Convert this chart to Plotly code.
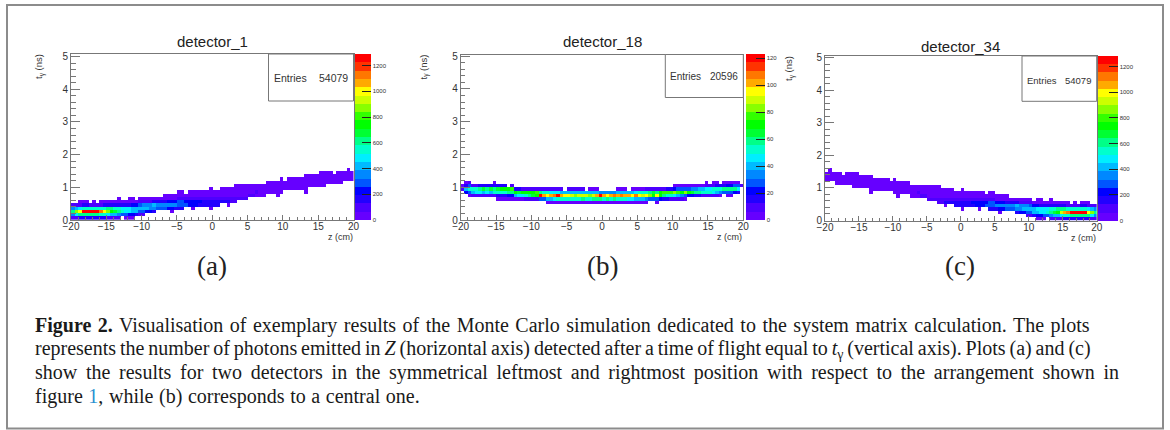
import plotly.graph_objects as go

W, H = 1170, 430

# Histogram contents read per z-column (80 columns, 0.5 cm wide; t bins 0.1 ns high)
z_edges_first = -19.75
t_edges_first = 0.05

a_start = [0,0,0,0,0,0,0,0,0,0,0,0,0,0,1,0,0,0,1,1,
           1,2,2,2,3,3,3,3,2,3,3,3,4,4,3,4,4,4,4,3,
           4,4,5,5,4,5,5,6,6,6,7,7,7,7,7,8,8,8,7,8,
           9,9,9,9,9,9,8,10,10,10,10,10,11,11,11,11,11,12,12,12]
a_values = [
    [90,350,600,350,90],[110,500,850,420,110],[130,620,1020,480,120,30],[150,640,1240,520,130,30],
    [170,640,1270,540,130,30],[170,620,1280,540,120],[160,620,1270,540,120,30],[150,600,1260,540,120],
    [150,560,1140,560,120,30],[130,520,1030,580,130,30],[120,480,900,600,130,30],[100,430,760,620,140,30],
    [90,400,700,560,150,30],[70,350,620,540,150,40,20],[300,560,500,170,40],[30,260,500,480,180,40],
    [30,230,460,470,190,50,20],[20,200,430,450,200,50,20],[170,400,440,230,60],[120,300,440,300,80,20],
    [100,260,430,330,90,20],[220,400,350,100,20],[200,380,370,110,25],[170,350,390,130,30],
    [300,370,140,30],[280,370,160,35],[260,360,180,40,15],[230,350,200,45,15],
    [30,200,340,220,50,15],[180,330,240,55,15],[160,300,260,70,20,10],[140,280,280,80,20,10],
    [260,250,90,20],[240,240,95,20,10],[30,220,230,100,20,10],[200,210,110,25,10],
    [190,200,115,25,10],[180,190,115,25,10],[170,190,115,30,10],[20,160,180,115,30,10,10],
    [150,170,110,30,10],[130,160,110,30,10],[150,110,35,10,10],[140,110,35,10,10],
    [20,130,110,40,15,10],[120,110,40,15,10],[100,105,45,15,10,10],[100,50,20,10,10],
    [90,55,20,10,10],[80,60,20,10,10],[70,25,10,10],[72,30,10,10],
    [60,70,10,10],[50,40,10,10],[40,40,15,10],[40,25,10,10],
    [40,25,10,10],[35,30,10,10],[10,35,30,12,10],[15,35,25,12,8],
    [35,25,10],[35,25,12,8],[30,30,12,8],[30,30,12,8],
    [28,30,14,8],[26,32,14,8],[10,24,32,16,8,6],[30,22,10,6],
    [28,22,10,6],[26,24,10,6],[25,26,12,6,5],[22,26,14,6,5],
    [26,16,8,5],[25,18,8,5],[24,18,8],[22,20,10,5],
    [20,22,10,5],[24,12,6],[24,14,6,4],[22,14,6],
]

b_start = [9,8,7,7,7,7,7,7,7,7,6,6,6,6,6,6,6,6,6,6,
           6,6,6,6,5,5,5,5,5,5,5,5,5,5,5,5,5,5,5,5,
           5,5,5,5,5,5,5,5,5,5,5,5,5,6,6,5,6,6,6,6,
           6,6,6,6,7,7,7,7,7,7,7,7,7,7,8,7,7,8,8,10]
b_values = [
    [10,6],[20,40,15,6],[5,25,50,30,8],[8,40,55,12],[8,45,50,12],[10,45,60,15],[10,40,65,15],[10,45,60,15],
    [10,40,65,15],[12,50,60,15,4],[4,15,50,65,15],[4,18,55,70,15],[4,18,55,70,15],[4,20,60,70],[4,22,60,75,10],[5,42,68,15],
    [6,45,65,15],[6,48,70,12],[8,55,72,12],[8,60,68,12],[10,65,72,10],[12,68,75,10],[25,122,60,10],[28,100,55,10],
    [3,40,95,50,8],[3,42,100,45,8],[3,48,105,45,8],[3,50,122,45,8],[3,52,100,40,8],[3,52,95,40],[4,50,95,40,8],[4,52,90,40,8],
    [4,55,85,40,8],[4,55,90,38,8],[4,58,88,38,8],[5,55,90,40],[5,55,85,38,6],[5,58,90,40,6],[5,60,100,38,6],[5,60,122,35],
    [5,55,100,35],[4,58,95,32],[4,55,100,35],[4,58,105,35],[4,55,100,38,6],[4,52,110,40,6],[4,52,100,42,6],[4,48,100,40],
    [4,48,95,42,6],[4,42,110,45,6],[4,40,95,50,6],[4,40,90,55,6],[4,35,95,55,8],[30,85,60,10],[28,70,65,12],[3,25,95,60,12],
    [20,70,70,12],[18,60,75,12],[15,55,75,15],[12,50,75,15],[10,45,80,20,4],[8,40,75,25,4],[8,35,70,25,4],[6,30,80,28,4],
    [22,70,30,4],[20,65,35,5],[18,60,35,5],[15,60,40,6],[12,55,40,6],[10,50,45,10,3],[10,50,45,8],[8,45,50,12,3],
    [8,40,55,15,3],[6,35,55,15],[30,60,15,5],[4,30,60,20,5],[4,25,60,20,5],[20,60,25,6],[15,45,25,6],[8],
]

titles = ["detector_1", "detector_18", "detector_34"]
entries = ["54079", "20596", "54079"]
panel_tags = ["(a)", "(b)", "(c)"]
palette = ["#6600ff","#4d00ff","#2200ff","#0000ff","#0055ff","#0088ff","#00bbff","#00eeff","#00ffcc","#00ff88",
           "#00ff33","#00ff00","#33ff00","#88ff00","#ccff00","#ffff00","#ffaa00","#ff7700","#ff3300","#ff0000"]
caption_lines = [
    "<b>Figure 2.</b> Visualisation of exemplary results of the Monte Carlo simulation dedicated to the system matrix calculation. The plots",
    "represents the number of photons emitted in <i>Z</i> (horizontal axis) detected after a time of flight equal to <i>t</i><sub>γ</sub> (vertical axis). Plots (a) and (c)",
    "show the results for two detectors in the symmetrical leftmost and rightmost position with respect to the arrangement shown in",
    "figure <span style='color:#2a8fd0'>1</span>, while (b) corresponds to a central one.",
]
# Extra space between words so the caption lines end flush, as in the justified original
caption_word_gap = [1.5, -1.1, 3.7, 0.6]
caption_left = 35

# Pixel layout of each panel: frame, colour bar, stats box, text anchors
panels = [
    dict(x0=71, x1=353.5, y0=54, y1=220, ymax=5.08, zmax=1290, cb0=355, cb1=371, dz=200,
         box=(268.5, 101), ent=(272.7, 349, 77.5), ent_size=10.5, tx=212.3, ty=41, lab_y=266, ylab=39, zr=353.5, zy=237),
    dict(x0=460.7, x1=743.3, y0=54.5, y1=220, ymax=5.05, zmax=123, cb0=746, cb1=765, dz=20,
         box=(665.3, 97.5), ent=(669, 739.3, 77), ent_size=10, tx=602.3, ty=41, lab_y=266, ylab=424, zr=743, zy=237),
    dict(x0=825, x1=1096.7, y0=56, y1=220.5, ymax=5.05, zmax=1285, cb0=1098, cb1=1117.7, dz=200,
         box=(1022, 101.3), ent=(1025.7, 1092.3, 80), ent_size=9.5, tx=960, ty=46.5, lab_y=266, ylab=789, zr=1096.7, zy=238),
]


def to_matrix(starts, values):
    rows = 20
    m = [[None] * len(starts) for _ in range(rows)]
    for col, (s, vals) in enumerate(zip(starts, values)):
        for k, v in enumerate(vals):
            m[s + k][col] = v
    return m


def flip(seq):
    return list(seq)[::-1]


matrices = [to_matrix(a_start, a_values), to_matrix(b_start, b_values),
            to_matrix(flip(a_start), flip(a_values))]

scale = []
for i, c in enumerate(palette):
    scale += [[i / 20, c], [(i + 1) / 20, c]]

px = lambda x: x / W
py = lambda y: 1 - y / H

fig = go.Figure()
annots = []
shapes = [dict(type="rect", xref="paper", yref="paper", x0=px(7), x1=px(1163), y0=py(5), y1=py(428.5),
               line=dict(color="#8c8c8c", width=2), layer="below")]
ink = "#333333"
axcol = "#777777"

for i, (p, m) in enumerate(zip(panels, matrices)):
    n = "" if i == 0 else str(i + 1)
    fig.add_trace(go.Heatmap(
        z=m, x0=z_edges_first, dx=0.5, y0=t_edges_first, dy=0.1, zmin=0, zmax=p["zmax"], zsmooth=False,
        colorscale=scale, hoverongaps=False, xaxis="x" + n, yaxis="y" + n,
        colorbar=dict(x=px(p["cb0"]), xanchor="left", xpad=0, ypad=0, y=py(p["y1"]), yanchor="bottom",
                      len=(p["y1"] - p["y0"]) / H, thickness=p["cb1"] - p["cb0"], outlinewidth=0,
                      tick0=0, dtick=p["dz"], ticks="inside", ticklen=9, tickcolor="#222222", tickwidth=1,
                      tickfont=dict(family="Liberation Sans", size=6, color=ink)),
    ))
    common = dict(showline=True, mirror=True, linecolor=axcol, linewidth=1, ticks="inside", tickcolor=axcol,
                  tickwidth=1, showgrid=False, zeroline=False,
                  tickfont=dict(family="Liberation Sans", size=10, color=ink))
    fig.layout["xaxis" + n] = dict(common, domain=[px(p["x0"]), px(p["x1"])], range=[-20, 20], anchor="y" + n,
                                   tick0=-20, dtick=5, ticklen=5, ticklabelstandoff=-3,
                                   minor=dict(ticks="inside", dtick=1, ticklen=3, tickcolor=axcol, showgrid=False))
    fig.layout["yaxis" + n] = dict(common, domain=[py(p["y1"]), py(p["y0"])], range=[0, p["ymax"]], anchor="x" + n,
                                   tick0=0, dtick=1, ticklen=9,
                                   minor=dict(ticks="inside", dtick=0.2, ticklen=4.5, tickcolor=axcol, showgrid=False))
    shapes.append(dict(type="rect", xref="paper", yref="paper", x0=px(p["box"][0]), x1=px(p["x1"]),
                       y0=py(p["y0"]), y1=py(p["box"][1]), fillcolor="white", line=dict(color=axcol, width=1)))

    def note(text, x, y, size=10, anchor="center", fam="Liberation Sans", color=ink, **kw):
        annots.append(dict(text=text, xref="paper", yref="paper", x=px(x), y=py(y), showarrow=False,
                           xanchor=anchor, yanchor="middle", font=dict(family=fam, size=size, color=color),
                           borderpad=0, **kw))

    note(titles[i], p["tx"], p["ty"], size=15, color="#222222")
    note("Entries", p["ent"][0], p["ent"][2], size=p["ent_size"], anchor="left")
    note(entries[i], p["ent"][1], p["ent"][2], size=p["ent_size"], anchor="right")
    note("z (cm)", p["zr"], p["zy"], size=9, anchor="right")
    note("t<sub>γ</sub> (ns)", p["ylab"], p["y0"] + 13, size=9.5, textangle=-90)
    note(panel_tags[i], p["tx"], p["lab_y"], size=27, fam="Liberation Serif", color="#222222")

first_caption = len(annots)
for y, line in zip([325, 349, 372.5, 396.5], caption_lines):
    annots.append(dict(text=line, xref="paper", yref="paper", x=px(caption_left), y=py(y), showarrow=False,
                       xanchor="left", yanchor="middle",
                       font=dict(family="Liberation Serif", size=20, color="#1a1a1a")))

fig.update_layout(width=W, height=H, margin=dict(l=0, r=0, t=0, b=0, autoexpand=False), paper_bgcolor="white",
                  plot_bgcolor="white", annotations=annots, shapes=shapes, showlegend=False)

post = (
    "document.body.style.margin='0';document.body.style.overflow='hidden';"
    "var gaps=%s;var first=%d;var left=%d;"
    "gaps.forEach(function(g,k){var e=document.querySelector('.annotation[data-index=\"'+(first+k)+'\"] text');"
    "if(e){e.style.wordSpacing=g+'px';var dx=left-e.getBoundingClientRect().left;"
    "e.setAttribute('transform',(e.getAttribute('transform')||'')+' translate('+dx+',0)');}});"
    % (caption_word_gap, first_caption, caption_left)
)
fig.write_html("out.html", config=dict(displayModeBar=False), post_script=post)
